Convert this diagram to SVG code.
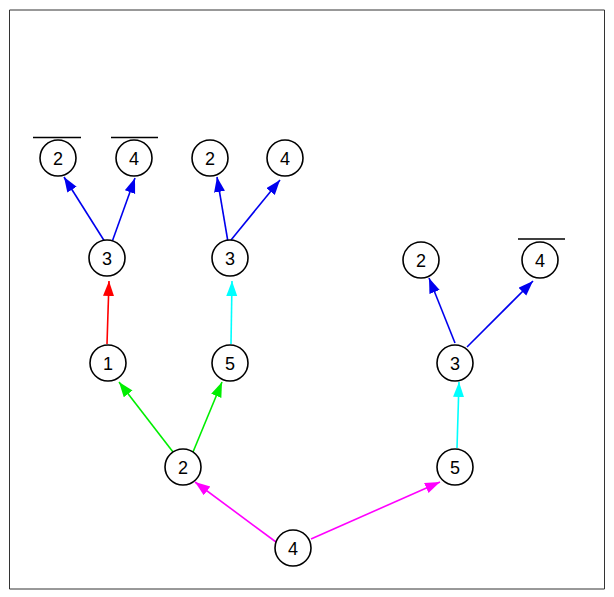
<svg xmlns="http://www.w3.org/2000/svg" width="614" height="597" viewBox="0 0 614 597">
<defs>
<style>
.n circle{fill:#fff;stroke:#000;stroke-width:1.6}
.n text{font-family:"Liberation Sans",Arial,sans-serif;font-size:18px;text-anchor:middle;fill:#000}
.ov{stroke:#000;stroke-width:1.6}
.e line{stroke-width:1.6;fill:none}
</style>
<marker id="mb" markerUnits="userSpaceOnUse" markerWidth="16" markerHeight="12" refX="15" refY="5.5" orient="auto"><path d="M0,0 L15,5.5 L0,11 z" fill="#0000ee"/></marker>
<marker id="mr" markerUnits="userSpaceOnUse" markerWidth="16" markerHeight="12" refX="15" refY="5.5" orient="auto"><path d="M0,0 L15,5.5 L0,11 z" fill="#ff0000"/></marker>
<marker id="mc" markerUnits="userSpaceOnUse" markerWidth="16" markerHeight="12" refX="15" refY="5.5" orient="auto"><path d="M0,0 L15,5.5 L0,11 z" fill="#00ffff"/></marker>
<marker id="mg" markerUnits="userSpaceOnUse" markerWidth="16" markerHeight="12" refX="15" refY="5.5" orient="auto"><path d="M0,0 L15,5.5 L0,11 z" fill="#00ee00"/></marker>
<marker id="mm" markerUnits="userSpaceOnUse" markerWidth="16" markerHeight="12" refX="15" refY="5.5" orient="auto"><path d="M0,0 L15,5.5 L0,11 z" fill="#ff00ff"/></marker>
</defs>
<rect width="614" height="597" fill="#fff"/>
<path d="M9.5,589 L9.5,10 L604.5,10 L604.5,589 Z" fill="none" stroke="#333" stroke-width="1"/>
<g id="connectors" class="e">
<line x1="105" y1="242" x2="64" y2="177" stroke="#0000ee" marker-end="url(#mb)"/>
<line x1="112" y1="242" x2="135" y2="178" stroke="#0000ee" marker-end="url(#mb)"/>
<line x1="228" y1="242" x2="217" y2="177" stroke="#0000ee" marker-end="url(#mb)"/>
<line x1="231" y1="240" x2="280" y2="180" stroke="#0000ee" marker-end="url(#mb)"/>
<line x1="107" y1="344" x2="109" y2="281" stroke="#ff0000" marker-end="url(#mr)"/>
<line x1="231" y1="344" x2="232" y2="281" stroke="#00ffff" marker-end="url(#mc)"/>
<line x1="173" y1="452" x2="119" y2="382" stroke="#00ee00" marker-end="url(#mg)"/>
<line x1="193" y1="452" x2="222" y2="382" stroke="#00ee00" marker-end="url(#mg)"/>
<line x1="455" y1="343" x2="429" y2="278" stroke="#0000ee" marker-end="url(#mb)"/>
<line x1="467" y1="347" x2="533" y2="281" stroke="#0000ee" marker-end="url(#mb)"/>
<line x1="457" y1="448" x2="459" y2="382" stroke="#00ffff" marker-end="url(#mc)"/>
<line x1="276" y1="542" x2="195" y2="482" stroke="#ff00ff" marker-end="url(#mm)"/>
<line x1="311" y1="539" x2="440" y2="482" stroke="#ff00ff" marker-end="url(#mm)"/>
</g>
<g id="n1" class="n"><circle cx="58" cy="158" r="18"/><text x="58" y="164.5">2</text><line class="ov" x1="33" y1="137.5" x2="81" y2="137.5"/></g>
<g id="n2" class="n"><circle cx="134" cy="158" r="18"/><text x="134" y="164.5">4</text><line class="ov" x1="111" y1="137.5" x2="158" y2="137.5"/></g>
<g id="n3" class="n"><circle cx="107" cy="258" r="18"/><text x="107" y="264.5">3</text></g>
<g id="n4" class="n"><circle cx="210" cy="158" r="18"/><text x="210" y="164.5">2</text></g>
<g id="n5" class="n"><circle cx="285" cy="158" r="18"/><text x="285" y="164.5">4</text></g>
<g id="n6" class="n"><circle cx="230" cy="258" r="18"/><text x="230" y="264.5">3</text></g>
<g id="n7" class="n"><circle cx="108" cy="363" r="18"/><text x="108" y="369.5">1</text></g>
<g id="n8" class="n"><circle cx="230" cy="363" r="18"/><text x="230" y="369.5">5</text></g>
<g id="n9" class="n"><circle cx="183" cy="467" r="18"/><text x="183" y="473.5">2</text></g>
<g id="n10" class="n"><circle cx="421" cy="260" r="18"/><text x="421" y="266.5">2</text></g>
<g id="n11" class="n"><circle cx="540" cy="260" r="18"/><text x="540" y="266.5">4</text><line class="ov" x1="518" y1="239" x2="565" y2="239"/></g>
<g id="n12" class="n"><circle cx="455" cy="363" r="18"/><text x="455" y="369.5">3</text></g>
<g id="n13" class="n"><circle cx="455" cy="467" r="18"/><text x="455" y="473.5">5</text></g>
<g id="n14" class="n"><circle cx="293" cy="548" r="18"/><text x="293" y="554.5">4</text></g>
</svg>
